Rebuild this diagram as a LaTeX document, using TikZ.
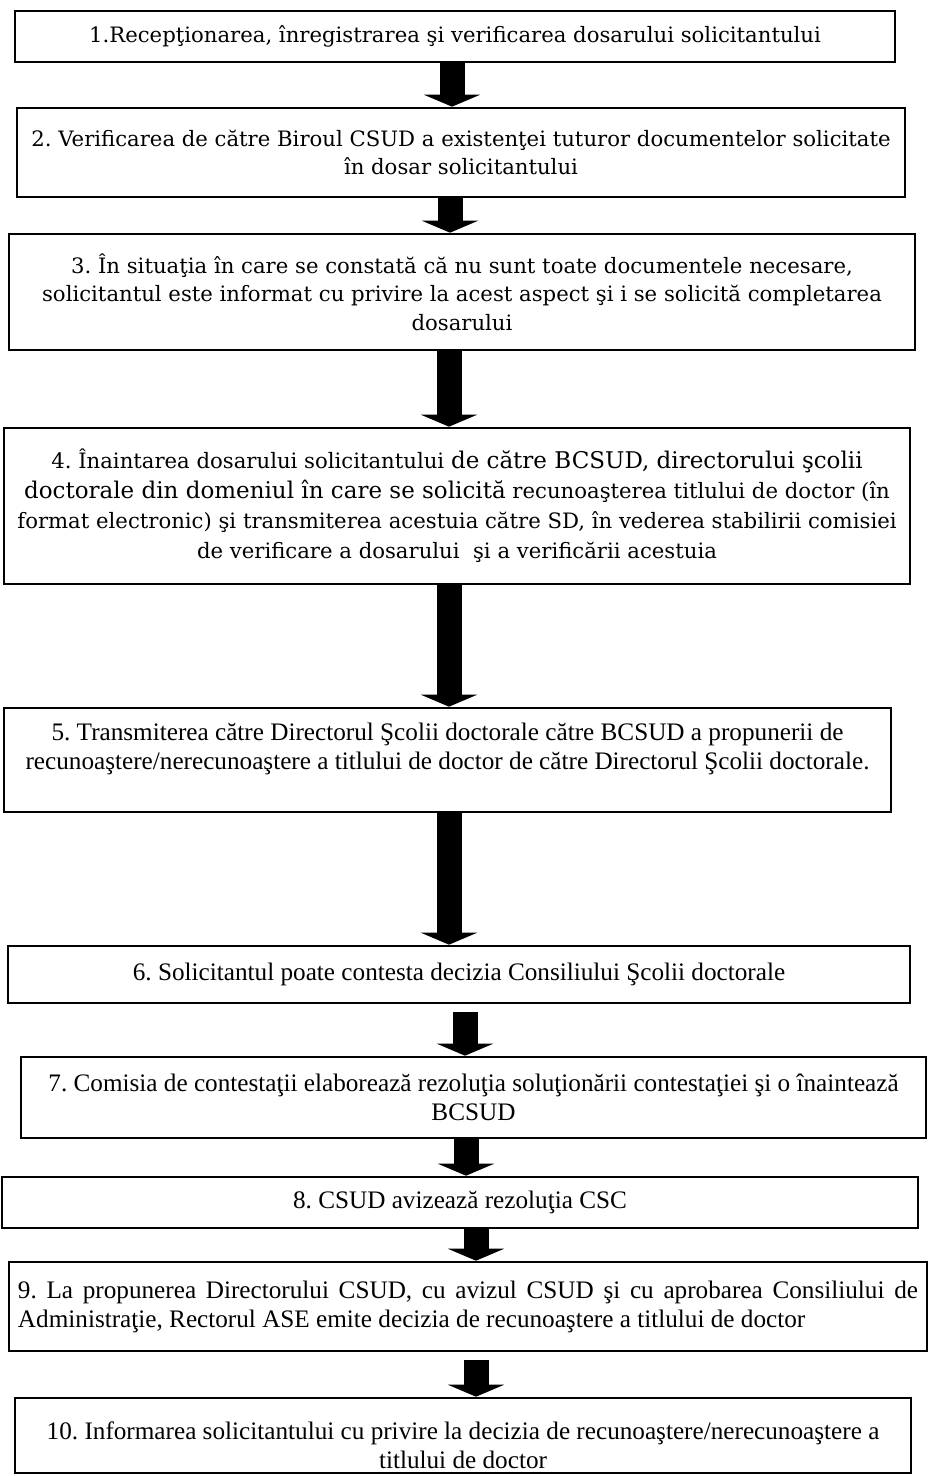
\documentclass[tikz,border=0pt]{standalone}
\usepackage{fontspec}
\setmainfont{Liberation Serif}
\newfontfamily\cambriafont{DejaVu Serif}
\usetikzlibrary{arrows.meta}

\tikzset{
  stepbox/.style={draw, rectangle, line width=1.3pt, inner sep=0pt, align=center},
  camtext/.style={font=\cambriafont\fontsize{10.6}{14.2}\selectfont},
  tnrtext/.style={font=\fontsize{12.6}{14.5}\selectfont},
  flow/.style={line width=12.5pt, -{Triangle[width=28pt,length=6pt]}},
}

\begin{document}
\frenchspacing
\begin{tikzpicture}[x=0.5pt,y=-0.5pt]
    \useasboundingbox (0,0) rectangle (927,1476);

    % boxes
    \node[stepbox, camtext, minimum width=440pt, minimum height=25.5pt] (b1) at (455,36.5)
        {1.Recepţionarea, înregistrarea şi verificarea dosarului solicitantului};
    \node[stepbox, camtext, minimum width=444pt, minimum height=44.5pt] (b2) at (461,152.5)
        {2. Verificarea de către Biroul CSUD a existenţei tuturor documentelor solicitate\\
         în dosar solicitantului};
    \node[stepbox, camtext, minimum width=453pt, minimum height=58pt] (b3) at (462,292)
        {3. În situaţia în care se constată că nu sunt toate documentele necesare,\\
         solicitantul este informat cu privire la acest aspect şi i se solicită completarea\\
         dosarului};
    \node[stepbox, font=\cambriafont\fontsize{10.6}{15}\selectfont, minimum width=453pt, minimum height=78pt] (b4) at (457,506)
        {4. Înaintarea dosarului solicitantului {\fontsize{11.5}{15}\selectfont de către BCSUD, directorului şcolii}\\
         {\fontsize{11.5}{15}\selectfont doctorale din domeniul în care se solicită} recunoaşterea titlului de doctor (în\\
         format electronic) şi transmiterea acestuia către SD, în vederea stabilirii comisiei\\
         de verificare a dosarului \ şi a verificării acestuia};
    \node[stepbox, tnrtext, minimum width=443.5pt, minimum height=52pt] (b5) at (447.5,760)
        {5. Transmiterea către Directorul Şcolii doctorale către BCSUD a propunerii de\\
         recunoaştere/nerecunoaştere a titlului de doctor de către Directorul Şcolii doctorale.\rule[-13.5pt]{0pt}{0pt}};
    \node[stepbox, tnrtext, minimum width=451pt, minimum height=28.5pt] (b6) at (459,974.5)
        {6. Solicitantul poate contesta decizia Consiliului Şcolii doctorale};
    \node[stepbox, tnrtext, minimum width=452.5pt, minimum height=40.5pt] (b7) at (473.5,1097.5)
        {7. Comisia de contestaţii elaborează rezoluţia soluţionării contestaţiei şi o înaintează\\
         BCSUD};
    \node[stepbox, tnrtext, minimum width=458pt, minimum height=25.5pt] (b8) at (460,1202.5)
        {8. CSUD avizează rezoluţia CSC};
    \node[stepbox, tnrtext, align=justify, text width=450pt, minimum width=459pt, minimum height=44.5pt] (b9) at (468,1306.5)
        {9. La propunerea Directorului CSUD, cu avizul CSUD şi cu aprobarea Consiliului de\linebreak
         Administraţie, Rectorul ASE emite decizia de recunoaştere a titlului de doctor};
    \node[stepbox, tnrtext, minimum width=448pt, minimum height=37.5pt] (b10) at (463,1435.5)
        {\rule{0pt}{19pt}10. Informarea solicitantului cu privire la decizia de recunoaştere/nerecunoaştere a\\
         titlului de doctor};

    % arrow columns
    \coordinate (a1) at (452,0);
    \coordinate (a2) at (450,0);
    \coordinate (a3) at (449,0);
    \coordinate (a4) at (449,0);
    \coordinate (a5) at (449,0);
    \coordinate (a6) at (465,0);
    \coordinate (a7) at (466,0);
    \coordinate (a8) at (476,0);
    \coordinate (a9) at (476,0);

    \draw[flow] (a1 |- b1.south) -- (a1 |- b2.north);
    \draw[flow] (a2 |- b2.south) -- (a2 |- b3.north);
    \draw[flow] (a3 |- b3.south) -- (a3 |- b4.north);
    \draw[flow] (a4 |- b4.south) -- (a4 |- b5.north);
    \draw[flow] (a5 |- b5.south) -- (a5 |- b6.north);
    \draw[flow] ([yshift=-4pt]a6 |- b6.south) -- (a6 |- b7.north);
    \draw[flow] (a7 |- b7.south) -- (a7 |- b8.north);
    \draw[flow] (a8 |- b8.south) -- (a8 |- b9.north);
    \draw[flow] ([yshift=-4pt]a9 |- b9.south) -- (a9 |- b10.north);
\end{tikzpicture}
\end{document}
